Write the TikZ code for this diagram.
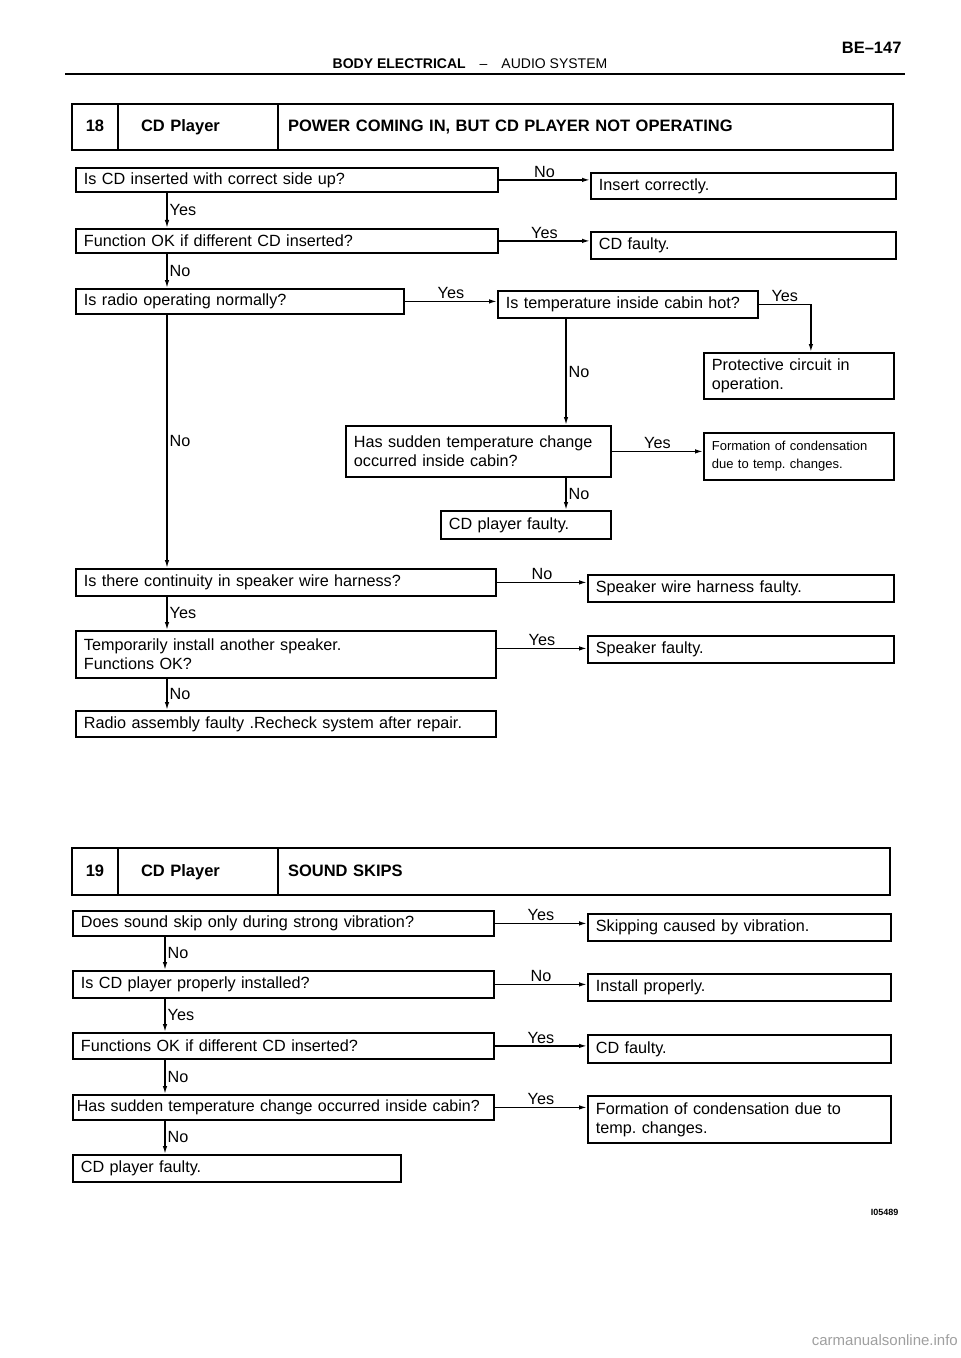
\documentclass[tikz,border=0pt]{standalone}
\usepackage{fontspec}
\setmainfont{Liberation Sans}
\usetikzlibrary{arrows.meta,positioning}
\frenchspacing

\newcommand\flowfont{\fontsize{16.2bp}{19bp}\selectfont}
\newcommand\notefont{\fontsize{13bp}{18bp}\selectfont}
\newcommand\ttlfont{\fontsize{16.5bp}{19bp}\selectfont\bfseries}
\newcommand\hdfont{\fontsize{14bp}{16bp}\selectfont}

\tikzset{
  box/.style 2 args={draw, line width=1.8bp, anchor=north west, inner xsep=8bp,
    inner ysep=0pt, align=left, font=\flowfont, text width=#1, minimum height=#2},
  cell/.style={draw, line width=2.4bp, inner xsep=0pt, inner ysep=0pt, outer sep=0pt,
    minimum height=46bp, text height=12bp, text depth=3bp, font=\ttlfont},
  arr/.style={-{Latex[length=8bp,width=4.5bp]}, line width=1.4bp},
  lbl/.style={font=\flowfont, inner sep=2bp}
}

\begin{document}
\begin{tikzpicture}[x=1bp, y=-1bp]
\useasboundingbox (0,0) rectangle (960,1358);

% page header
\node[anchor=east, font=\fontsize{16.5bp}{19bp}\selectfont\bfseries] (page) at (905,48) {BE–147};
\node[font=\hdfont] (sect) at (470,64) {\textbf{BODY ELECTRICAL}\quad–\quad AUDIO SYSTEM};
\draw[line width=2.5bp] (65,74) -- (905,74);

% ---- 18 ----
\node[cell, anchor=north west, minimum width=46bp, text width=46bp, align=center] (n18) at (72,104) {18};
\node[cell, right=0pt of n18, minimum width=160bp, text width=114bp, align=left, inner xsep=23bp] (d18) {CD Player};
\node[cell, right=0pt of d18, minimum width=615bp, text width=595bp, align=left, inner xsep=10bp] (t18) {POWER COMING IN, BUT CD PLAYER NOT OPERATING};

\coordinate (colA) at (167,0);
\coordinate (colB) at (566,0);

\node[box={406bp}{24bp}] (q1) at (75,167) {Is CD inserted with correct side up?};
\node[box={289bp}{26bp}] (r1) at (590,172) {Insert correctly.};
\node[box={406bp}{24bp}] (q2) at (75,228) {Function OK if different CD inserted?};
\node[box={289bp}{27bp}] (r2) at (590,231) {CD faulty.};
\node[box={312bp}{25bp}] (q3) at (75,288) {Is radio operating normally?};
\node[box={244bp}{27bp}] (q4) at (497,290) {Is temperature inside cabin hot?};
\node[box={174bp}{46bp}] (r4) at (703,352) {Protective circuit in\\operation.};
\node[box={249bp}{51bp}] (q5) at (345,425) {Has sudden temperature change\\occurred inside cabin?};
\node[box={174bp}{47bp}, font=\notefont] (r5) at (703,432) {Formation of condensation\\due to temp. changes.};
\node[box={154bp}{28bp}] (r6) at (440,510) {CD player faulty.};
\node[box={404bp}{27bp}] (q6) at (75,568) {Is there continuity in speaker wire harness?};
\node[box={290bp}{27bp}] (r7) at (587,574) {Speaker wire harness faulty.};
\node[box={404bp}{47bp}] (q7) at (75,630) {Temporarily install another speaker.\\Functions OK?};
\node[box={290bp}{27bp}] (r8) at (587,635) {Speaker faulty.};
\node[box={404bp}{26bp}] (q8) at (75,710) {Radio assembly faulty .Recheck system after repair.};

\draw[arr] (q1.east) -- node[lbl, above]{No} (q1.east -| r1.west);
\draw[arr] (q1.south -| colA) -- node[lbl, right]{Yes} (q2.north -| colA);
\draw[arr] (q2.east) -- node[lbl, above]{Yes} (q2.east -| r2.west);
\draw[arr] (q2.south -| colA) -- node[lbl, right]{No} (q3.north -| colA);
\draw[arr] (q3.east) -- node[lbl, above]{Yes} (q3.east -| q4.west);
\draw[arr] (q4.east) -| node[lbl, above, pos=0.25]{Yes} ([xshift=12bp]r4.north);
\draw[arr] (q4.south -| colB) -- node[lbl, right]{No} (q5.north -| colB);
\draw[arr] (q5.east) -- node[lbl, above]{Yes} (q5.east -| r5.west);
\draw[arr] (q5.south -| colB) -- node[lbl, right]{No} (r6.north -| colB);
\draw[arr] (q3.south -| colA) -- node[lbl, right]{No} (q6.north -| colA);
\draw[arr] (q6.east) -- node[lbl, above]{No} (q6.east -| r7.west);
\draw[arr] (q6.south -| colA) -- node[lbl, right]{Yes} (q7.north -| colA);
\draw[arr] ([yshift=6bp]q7.east) -- node[lbl, above]{Yes} ([yshift=6bp]q7.east -| r8.west);
\draw[arr] (q7.south -| colA) -- node[lbl, right]{No} (q8.north -| colA);

% ---- 19 ----
\node[cell, anchor=north west, minimum width=46bp, minimum height=47bp, text width=46bp, align=center] (n19) at (72,848) {19};
\node[cell, right=0pt of n19, minimum width=160bp, minimum height=47bp, text width=114bp, align=left, inner xsep=23bp] (d19) {CD Player};
\node[cell, right=0pt of d19, minimum width=612bp, minimum height=47bp, text width=592bp, align=left, inner xsep=10bp] (t19) {SOUND SKIPS};

\coordinate (colC) at (165,0);

\node[box={405bp}{25bp}] (s1) at (72,910) {Does sound skip only during strong vibration?};
\node[box={287bp}{27bp}] (u1) at (587,913) {Skipping caused by vibration.};
\node[box={405bp}{27bp}] (s2) at (72,970) {Is CD player properly installed?};
\node[box={287bp}{27bp}] (u2) at (587,973) {Install properly.};
\node[box={405bp}{26bp}] (s3) at (72,1032) {Functions OK if different CD inserted?};
\node[box={287bp}{28bp}] (u3) at (587,1034) {CD faulty.};
\node[box={413bp}{25bp}, inner xsep=4bp, font=\fontsize{16bp}{19bp}\selectfont] (s4) at (72,1094) {Has sudden temperature change occurred inside cabin?};
\node[box={287bp}{47bp}] (u4) at (587,1095) {Formation of condensation due to\\temp. changes.};
\node[box={312bp}{27bp}] (s5) at (72,1154) {CD player faulty.};

\draw[arr] (s1.east) -- node[lbl, above]{Yes} (s1.east -| u1.west);
\draw[arr] (s1.south -| colC) -- node[lbl, right]{No} (s2.north -| colC);
\draw[arr] (s2.east) -- node[lbl, above]{No} (s2.east -| u2.west);
\draw[arr] (s2.south -| colC) -- node[lbl, right]{Yes} (s3.north -| colC);
\draw[arr] (s3.east) -- node[lbl, above]{Yes} (s3.east -| u3.west);
\draw[arr] (s3.south -| colC) -- node[lbl, right]{No} (s4.north -| colC);
\draw[arr] (s4.east) -- node[lbl, above]{Yes} (s4.east -| u4.west);
\draw[arr] (s4.south -| colC) -- node[lbl, right]{No} (s5.north -| colC);

\node[anchor=east, font=\fontsize{9bp}{10bp}\selectfont\bfseries] (fig) at (902,1212) {I05489};
\node[anchor=east, inner sep=0pt, text=gray!75, font=\fontsize{15bp}{18bp}\selectfont] (wm) at (958,1340) {carmanualsonline.info};
\end{tikzpicture}
\end{document}
